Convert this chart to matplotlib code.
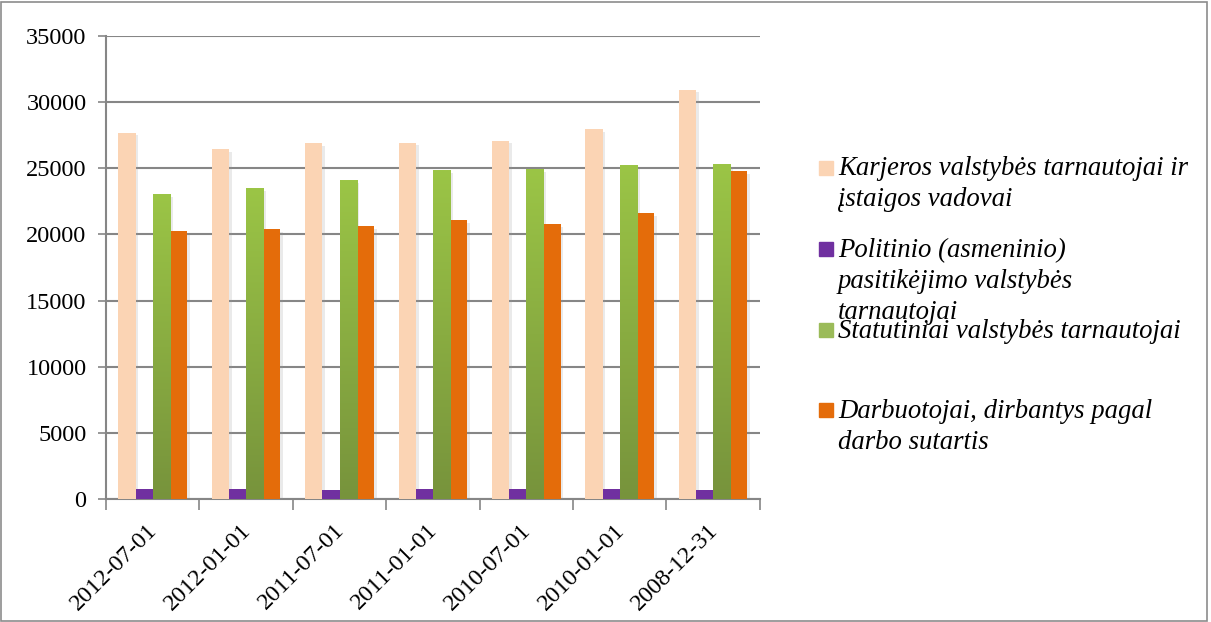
import matplotlib.pyplot as plt
import numpy as np
from matplotlib.patches import Rectangle
from matplotlib.colors import LinearSegmentedColormap
import matplotlib.patheffects as pe
import matplotlib.transforms as mtransforms

plt.rcParams['font.family'] = ['Liberation Serif', 'DejaVu Serif']

# duomenys
datos = ['2012-07-01', '2012-01-01', '2011-07-01', '2011-01-01',
         '2010-07-01', '2010-01-01', '2008-12-31']
karjeros = [27700, 26450, 26900, 26950, 27100, 27950, 30950]
politinio = [760, 760, 700, 760, 760, 760, 660]
statutiniai = [23050, 23500, 24100, 24870, 24950, 25220, 25320]
darbuotojai = [20230, 20400, 20630, 21090, 20760, 21600, 24780]

pavadinimai = ['Karjeros valstybės tarnautojai ir\nįstaigos vadovai',
               'Politinio (asmeninio)\npasitikėjimo valstybės\ntarnautojai',
               'Statutiniai valstybės tarnautojai',
               'Darbuotojai, dirbantys pagal\ndarbo sutartis']
spalvos = ['#FBD4B4', '#7030A0', '#9BBB59', '#E46C0A']

fig = plt.figure(figsize=(12.11, 6.22), dpi=100)
ax = fig.add_axes([0.0875, 0.198, 0.540, 0.744])

x = np.arange(len(datos))
w = 1 / (4 + 1.45)
serijos = [karjeros, politinio, statutiniai, darbuotojai]
seselis = [pe.SimplePatchShadow(offset=(2, -2), shadow_rgbFace='#999999', alpha=0.2), pe.Normal()]

# gradientas žaliems stulpeliams
zalia = LinearSegmentedColormap.from_list('zalia', ['#77933C', '#9BC546'])
grad = np.linspace(0, 1, 256).reshape(-1, 1)

for i, (vals, c) in enumerate(zip(serijos, spalvos)):
    poz = x + (i - 1.5) * w
    bars = ax.bar(poz, vals, width=w, color=c, linewidth=0, zorder=3)
    for b in bars:
        b.set_path_effects(seselis)
    if i == 2:
        for b in bars:
            bx, by = b.get_x(), b.get_y()
            bw, bh = b.get_width(), b.get_height()
            im = ax.imshow(grad, cmap=zalia, origin='lower', aspect='auto',
                           extent=[bx, bx + bw, by, by + bh], zorder=3.5)
            im.set_clip_path(b)

ax.set_xlim(-0.5, len(datos) - 0.5)
ax.set_ylim(0, 35000)
ax.set_yticks(np.arange(0, 35001, 5000))
ax.tick_params(axis='y', labelsize=17.5, length=6, color='#868686', width=1.2, pad=8)
ax.set_xticks(x)
ax.set_xticklabels(datos, rotation=45, ha='right', rotation_mode='anchor', fontsize=17.5)
ax.tick_params(axis='x', length=0, pad=15)
ax.set_xticks(np.arange(-0.5, len(datos)), minor=True)
ax.tick_params(axis='x', which='minor', length=8, color='#868686', width=1.2)
poslinkis = mtransforms.ScaledTranslation(-6 / 100, 0, fig.dpi_scale_trans)
for t in ax.get_xticklabels():
    t.set_transform(t.get_transform() + poslinkis)

ax.grid(axis='y', color='#868686', linewidth=1.5, zorder=0)
for s in ['top', 'right']:
    ax.spines[s].set_visible(False)
for s in ['left', 'bottom']:
    ax.spines[s].set_color('#868686')
    ax.spines[s].set_linewidth(1.5)

# legenda
y_zym = [168, 249, 330, 410]
y_teksto = [175, 257, 338, 418]
eil_tarpas = 31
for lbl, c, yz, yt in zip(pavadinimai, spalvos, y_zym, y_teksto):
    fig.patches.append(Rectangle((819 / 1211, 1 - (yz + 7) / 622), 14 / 1211, 14 / 622,
                                 transform=fig.transFigure, color=c))
    for k, eil in enumerate(lbl.split('\n')):
        fig.text(838 / 1211, 1 - (yt + k * eil_tarpas) / 622, eil, fontsize=19.3,
                 style='italic', va='baseline', ha='left')

# rėmelis
fig.patches.append(Rectangle((0.001, 0.002), 0.996, 0.995, transform=fig.transFigure,
                             fill=False, edgecolor='#8C8C8C', linewidth=1.2))

plt.savefig('out.png', dpi=100)
